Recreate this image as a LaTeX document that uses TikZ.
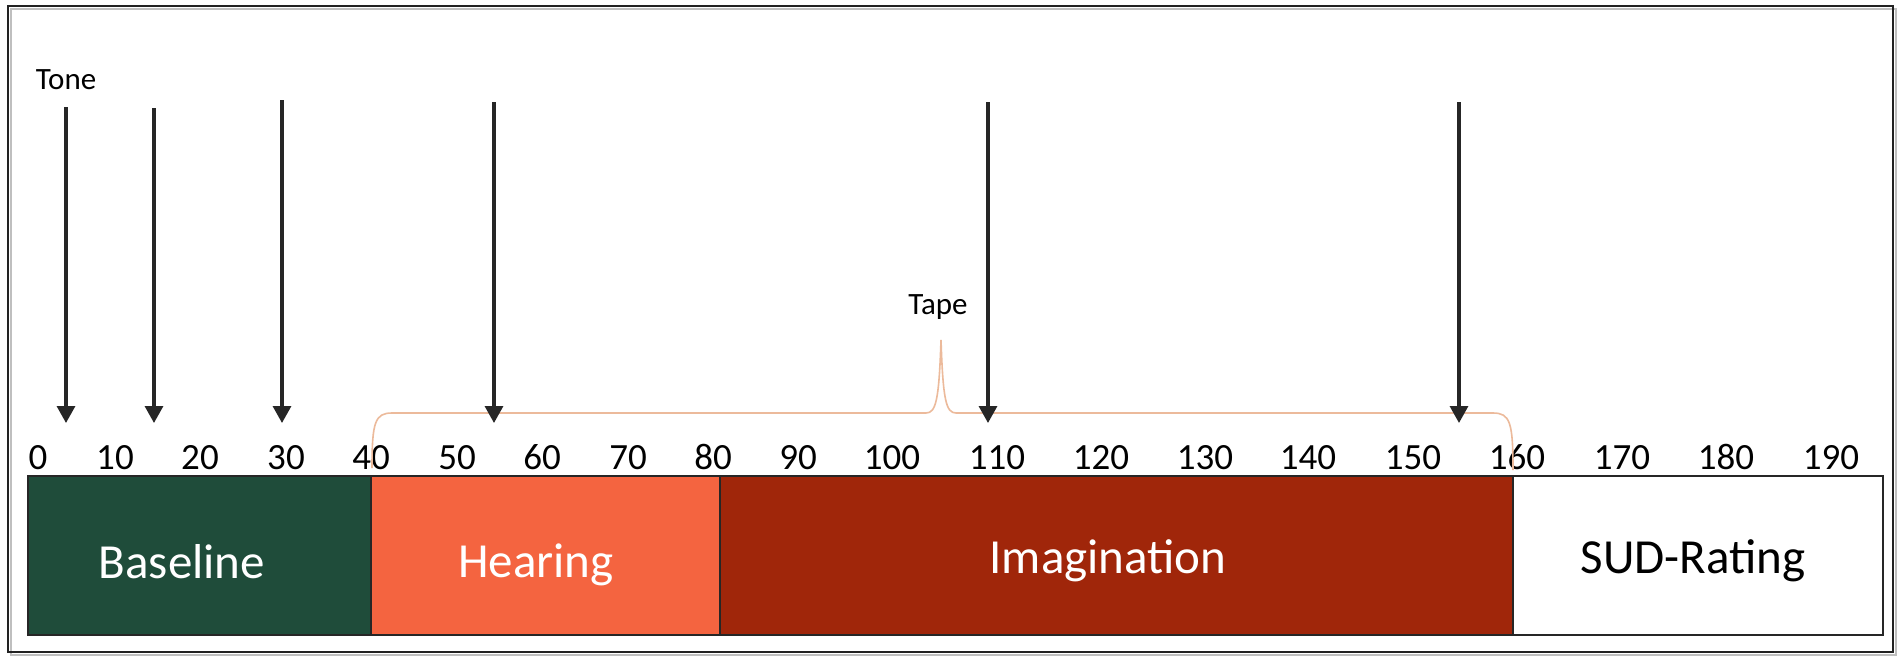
\documentclass[tikz,border=0pt]{standalone}
\usepackage{fontspec}
\setmainfont{Carlito}
\usetikzlibrary{arrows.meta}
\definecolor{bgreen}{RGB}{31,76,58}
\definecolor{horange}{RGB}{244,100,64}
\definecolor{ired}{RGB}{160,38,10}
\definecolor{tapecol}{RGB}{236,186,155}
\definecolor{framecol}{RGB}{34,34,34}
\begin{document}
\begin{tikzpicture}[x=0.5pt,y=-0.5pt,
  bar/.style={draw=black!85, line width=0.9pt, inner sep=0pt, outer sep=0pt, minimum height=79.5pt},
  barlabel/.style={anchor=base, inner sep=0pt, font=\fontsize{24.5}{28}\selectfont},
  ticklabel/.style={anchor=base, inner sep=0pt, font=\fontsize{18.5}{21}\selectfont},
  smalllabel/.style={anchor=base, inner sep=0pt, font=\fontsize{15.5}{18}\selectfont},
  arr/.style={line width=1.6pt, draw=black!85, -{Triangle[width=9pt,length=8.5pt]}},
  tape/.style={draw=tapecol, line width=0.8pt}
]
\useasboundingbox (0,0) rectangle (1902,660);
\fill[white] (0,0) rectangle (1902,660);
% outer frame
\draw[black!25, line width=1pt] (11,9) rectangle (1896,655);
\draw[framecol, line width=1.2pt] (8,6) rectangle (1893,652);

% bars
\node[bar, fill=bgreen, minimum width=171.5pt] (baseline) at (199.5,555.5) {};
\node[bar, fill=horange, minimum width=174.5pt] (hearing) at (545.5,555.5) {};
\node[bar, fill=ired, minimum width=396.5pt] (imagination) at (1116.5,555.5) {};
\node[bar, fill=white, minimum width=185pt] (sud) at (1698,555.5) {};

\node[barlabel, text=white] (lbase) at (182,578) {Baseline};
\node[barlabel, text=white] (lhear) at (536,577) {Hearing};
\node[barlabel, text=white] (limag) at (1108,573) {Imagination};
\node[barlabel, text=black] (lsud) at (1693,573) {SUD-Rating};

% tick labels
\foreach \v/\x in {0/38,10/115,20/200,30/286,40/371,50/457,60/542,70/628,80/713,90/798,100/892,110/997,120/1101,130/1205,140/1308,150/1413,160/1517,170/1622,180/1726,190/1831}
  \node[ticklabel] (t\v) at (\x,469) {\v};

% labels
\node[smalllabel] (tone) at (66,89) {Tone};
\node[smalllabel] (tapel) at (938,314) {Tape};

% tape brace
\draw[tape] (372,468) .. controls (372,422) and (375,413) .. (392,413)
  -- (926,413) .. controls (936,413) and (939,400) .. (941,340)
  .. controls (943,400) and (946,413) .. (956,413)
  -- (1493,413) .. controls (1510,413) and (1513,422) .. (1513,470);

% arrows
\foreach \i/\x/\y in {1/66/107,2/154/108,3/282/100,4/494/102,5/988/102,6/1459/102}{
  \coordinate (s\i) at (\x,\y);
  \coordinate (e\i) at (\x,423);
  \draw[arr] (s\i) -- (e\i);
}
\end{tikzpicture}
\end{document}
